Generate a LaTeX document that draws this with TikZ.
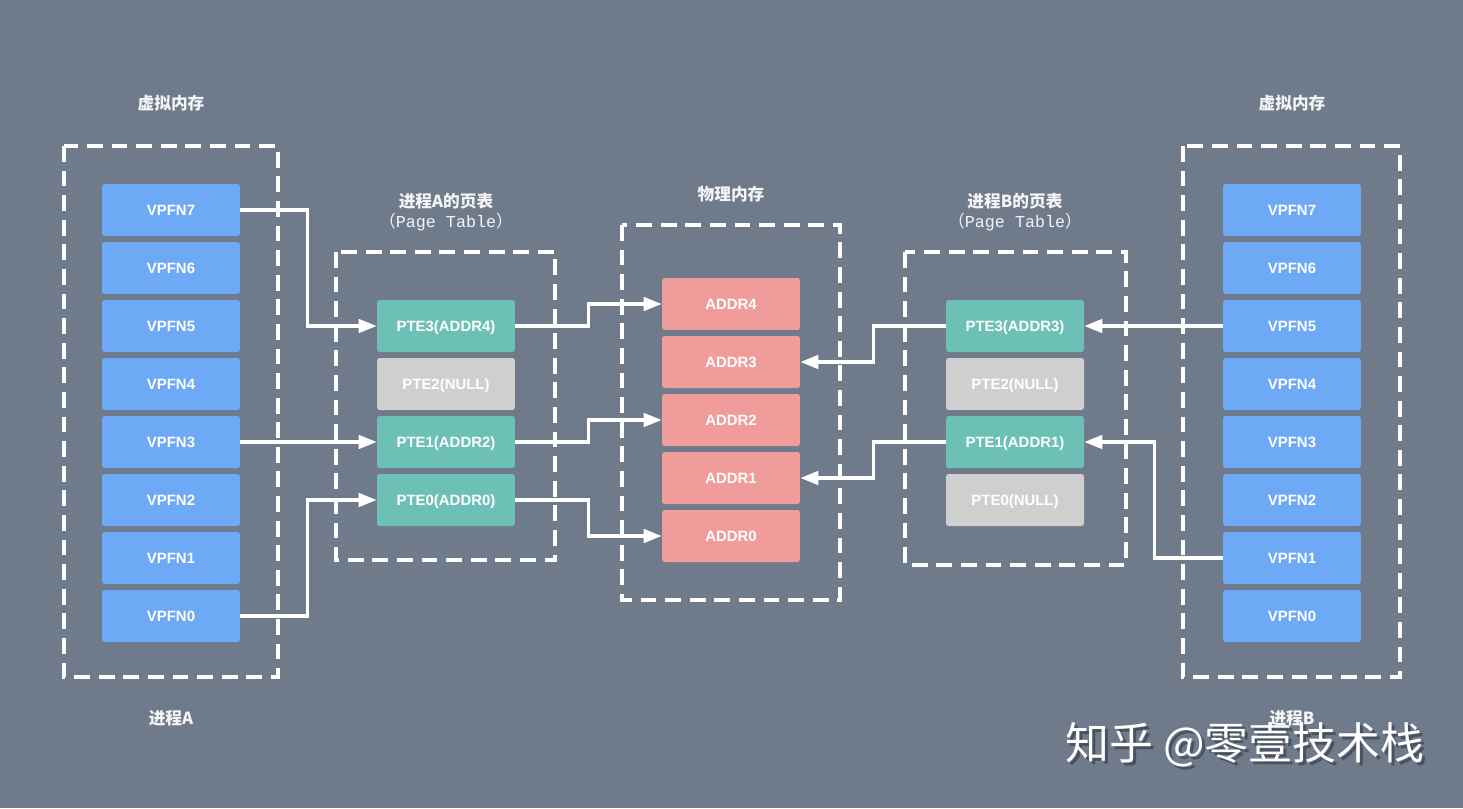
\documentclass[tikz,border=0pt]{standalone}
\usepackage{fontspec}
\setmainfont{Liberation Sans}
\setmonofont{Liberation Mono}
\newfontfamily\cjk{Noto Sans CJK SC}
\usetikzlibrary{arrows.meta}
\definecolor{cBg}{HTML}{6F7A8B}
\definecolor{cVirt}{HTML}{6EA9F5}
\definecolor{cPte}{HTML}{6CC0B6}
\definecolor{cNull}{HTML}{CFCFCF}
\definecolor{cPhys}{HTML}{F09C9A}
\definecolor{cInk}{HTML}{F4F5F7}
\definecolor{cShade}{HTML}{4A5260}
\tikzset{
  cell/.style={rounded corners=1.5pt, minimum width=2.76cm, minimum height=1.04cm, inner sep=0pt,
    text height=6.1pt, text depth=0pt, text=white, font=\fontsize{8.5}{10}\selectfont\bfseries},
  virt/.style={cell, fill=cVirt},
  pte/.style={cell, fill=cPte},
  nullpte/.style={cell, fill=cNull},
  phys/.style={cell, fill=cPhys},
  frame/.style={draw=white, line width=2.3pt, dash pattern=on 9pt off 5pt},
  title/.style={font=\cjk\bfseries\fontsize{9.5}{11}\selectfont, text=cInk},
  sub/.style={font=\fontsize{9.5}{11}\selectfont, text=cInk},
  link/.style={draw=white, line width=1.8pt, -{Triangle[length=3.6mm, width=2.7mm]}},
  wmark/.style={font=\cjk\fontsize{25}{30}\selectfont},
}

\begin{document}
\begin{tikzpicture}[x=0.02cm, y=-0.02cm]
% pixel grid of the reference, y downwards
\useasboundingbox (0,0) rectangle (1463,808);
\fill[cBg] (0,0) rectangle (1463,808);

% process A, virtual memory
\draw[frame] (64,146) rectangle (278,677);
\node[title] (tva) at (171,103) {虚拟内存};
\node[title] (pna) at (171,718) {进程A};
\node[virt] (va7) at (171,210) {VPFN7};
\node[virt] (va6) at (171,268) {VPFN6};
\node[virt] (va5) at (171,326) {VPFN5};
\node[virt] (va4) at (171,384) {VPFN4};
\node[virt] (va3) at (171,442) {VPFN3};
\node[virt] (va2) at (171,500) {VPFN2};
\node[virt] (va1) at (171,558) {VPFN1};
\node[virt] (va0) at (171,616) {VPFN0};

% page table of A
\draw[frame] (336,252) rectangle (555,560);
\node[title] (tpa) at (446,201) {进程A的页表};
\node[sub] (spa) at (446,222) {\cjk（\ttfamily Page Table\cjk）};
\node[pte]     (pa3) at (446,326) {PTE3(ADDR4)};
\node[nullpte] (pa2) at (446,384) {PTE2(NULL)};
\node[pte]     (pa1) at (446,442) {PTE1(ADDR2)};
\node[pte]     (pa0) at (446,500) {PTE0(ADDR0)};

% physical memory
\draw[frame] (622,225) rectangle (840,600);
\node[title] (tm) at (731,194) {物理内存};
\node[phys] (m4) at (731,304) {ADDR4};
\node[phys] (m3) at (731,362) {ADDR3};
\node[phys] (m2) at (731,420) {ADDR2};
\node[phys] (m1) at (731,478) {ADDR1};
\node[phys] (m0) at (731,536) {ADDR0};

% page table of B
\draw[frame] (905,252) rectangle (1126,565);
\node[title] (tpb) at (1015,201) {进程B的页表};
\node[sub] (spb) at (1015,222) {\cjk（\ttfamily Page Table\cjk）};
\node[pte]     (pb3) at (1015,326) {PTE3(ADDR3)};
\node[nullpte] (pb2) at (1015,384) {PTE2(NULL)};
\node[pte]     (pb1) at (1015,442) {PTE1(ADDR1)};
\node[nullpte] (pb0) at (1015,500) {PTE0(NULL)};

% process B, virtual memory
\draw[frame] (1183,146) rectangle (1400,677);
\node[title] (tvb) at (1292,103) {虚拟内存};
\node[title] (pnb) at (1292,718) {进程B};
\node[virt] (vb7) at (1292,210) {VPFN7};
\node[virt] (vb6) at (1292,268) {VPFN6};
\node[virt] (vb5) at (1292,326) {VPFN5};
\node[virt] (vb4) at (1292,384) {VPFN4};
\node[virt] (vb3) at (1292,442) {VPFN3};
\node[virt] (vb2) at (1292,500) {VPFN2};
\node[virt] (vb1) at (1292,558) {VPFN1};
\node[virt] (vb0) at (1292,616) {VPFN0};

% A: virtual -> page table -> physical
\draw[link] (va7.east) -- ++(67,0) |- (pa3.west);
\draw[link] (va3.east) -- (pa1.west);
\draw[link] (va0.east) -- ++(67,0) |- (pa0.west);
\draw[link] (pa3.east) -- ++(73,0) |- (m4.west);
\draw[link] (pa1.east) -- ++(73,0) |- (m2.west);
\draw[link] (pa0.east) -- ++(73,0) |- (m0.west);

% B: virtual -> page table -> physical
\draw[link] (vb5.west) -- (pb3.east);
\draw[link] (vb1.west) -- ++(-68,0) |- (pb1.east);
\draw[link] (pb3.west) -- ++(-72,0) |- (m3.east);
\draw[link] (pb1.west) -- ++(-72,0) |- (m1.east);

% watermark
\node[wmark, text=cShade] (wms) at (1248,748) {知乎 @零壹技术栈};
\node[wmark, text=white]  (wm)  at (1245,745) {知乎 @零壹技术栈};
\end{tikzpicture}
\end{document}
